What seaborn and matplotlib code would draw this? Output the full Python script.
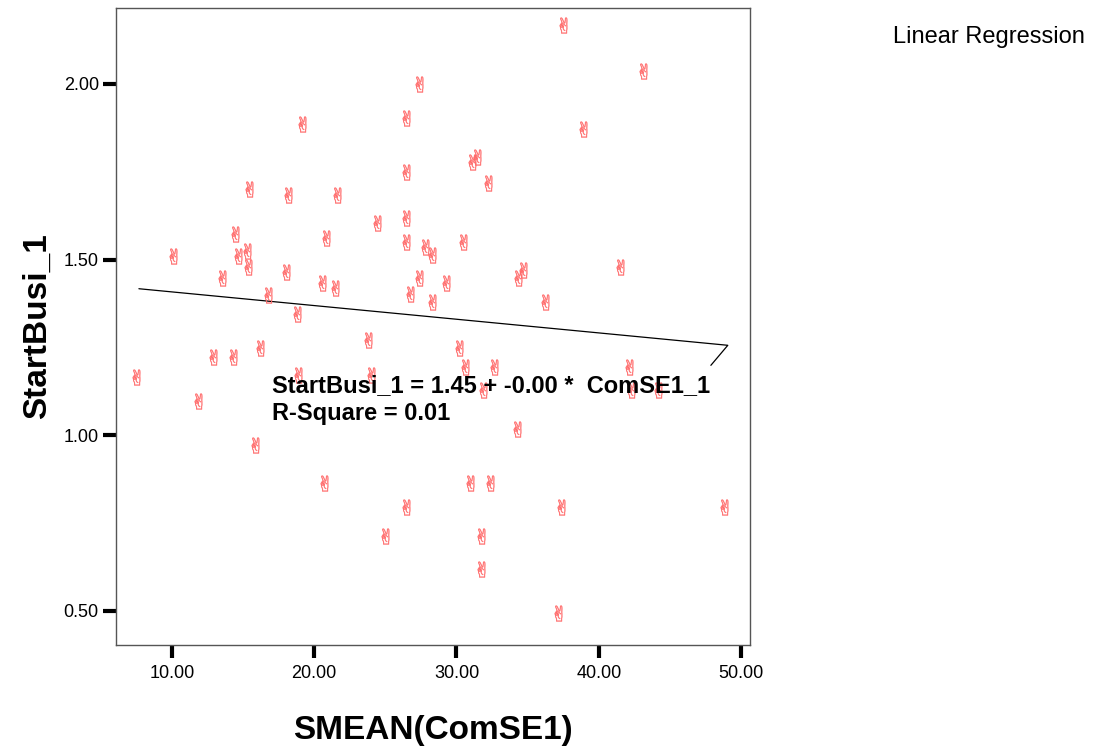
import matplotlib
matplotlib.use("Agg")
import matplotlib.pyplot as plt
import seaborn as sns
import pandas as pd

# ── data ──
smean_comse1 = [37.48, 43.10, 27.36, 38.88, 26.44, 19.14, 15.41, 18.15, 21.60, 26.44,
                31.43, 31.08, 32.21, 26.44, 24.41, 14.43, 10.07, 20.82, 15.27, 14.64,
                15.34, 18.01, 13.51, 26.44, 27.78, 28.27, 30.45, 27.36, 29.26, 20.54,
                21.45, 16.75, 26.73, 28.27, 34.67, 34.32, 36.21, 41.48, 18.78, 23.77,
                30.17, 16.18, 12.88, 14.29, 7.47, 18.85, 23.98, 30.59, 32.63, 31.86,
                42.12, 42.26, 44.15, 11.83, 15.83, 34.24, 20.68, 30.94, 32.35, 26.44,
                37.34, 48.79, 24.97, 31.71, 31.71, 37.13]
start_busi_1 = [2.169, 2.038, 2.001, 1.873, 1.904, 1.887, 1.700, 1.685, 1.685, 1.748,
                1.793, 1.779, 1.717, 1.617, 1.603, 1.572, 1.509, 1.560, 1.523, 1.509,
                1.478, 1.466, 1.447, 1.549, 1.535, 1.512, 1.549, 1.447, 1.432, 1.432,
                1.418, 1.398, 1.401, 1.378, 1.469, 1.447, 1.378, 1.478, 1.344, 1.270,
                1.248, 1.248, 1.222, 1.222, 1.165, 1.171, 1.171, 1.194, 1.194, 1.128,
                1.194, 1.128, 1.128, 1.097, 0.972, 1.017, 0.864, 0.864, 0.864, 0.796,
                0.796, 0.796, 0.713, 0.713, 0.619, 0.494]

# fitted line as drawn (incl. the little return stroke at the right end)
fit_x = [7.68, 49.07, 47.88]
fit_y = [1.417, 1.256, 1.199]

x_ticks = [10, 20, 30, 40, 50]
y_ticks = [0.5, 1.0, 1.5, 2.0]

equation = "StartBusi_1 = 1.45 + -0.00 *  ComSE1_1"
r_square = "R-Square = 0.01"

sns.set_style("white")
plt.rcParams["font.family"] = ["Liberation Sans", "DejaVu Sans"]
plt.rcParams["text.color"] = "black"

fig = plt.figure(figsize=(10.94, 7.49), dpi=100)
ax = fig.add_axes([116 / 1094, 1 - 645 / 749, 634 / 1094, 637 / 749])

df = pd.DataFrame({"SMEAN(ComSE1)": smean_comse1, "StartBusi_1": start_busi_1})
sns.scatterplot(data=df, x="SMEAN(ComSE1)", y="StartBusi_1", ax=ax,
                marker="$\u270c$", s=130, color="#ff6a6a", edgecolor="#ff6a6a",
                linewidth=0.3, zorder=3)

line_df = pd.DataFrame({"x": fit_x, "y": fit_y})
sns.lineplot(data=line_df, x="x", y="y", ax=ax, sort=False, estimator=None,
             color="black", lw=0.9, zorder=2)

ax.set_xlim(6.07, 50.63)
ax.set_ylim(0.403, 2.216)
ax.set_xticks(x_ticks)
ax.set_yticks(y_ticks)
ax.set_xticklabels([f"{v:.2f}" for v in x_ticks])
ax.set_yticklabels([f"{v:.2f}" for v in y_ticks])
ax.tick_params(axis="both", direction="out", length=9.4, width=3, color="black",
               labelsize=13, labelcolor="black", bottom=True, left=True)
ax.tick_params(axis="x", pad=5)
ax.tick_params(axis="y", pad=3)

for sp in ax.spines.values():
    sp.set_color("#555555")
    sp.set_linewidth(1)

ax.set_xlabel("SMEAN(ComSE1)", fontsize=24, fontweight="bold", labelpad=24,
              color="black")
ax.set_ylabel("StartBusi_1", fontsize=24, fontweight="bold", labelpad=8,
              color="black")

ax.text(17.03, 1.1225, equation, fontsize=17, fontweight="bold", va="baseline",
        color="black", zorder=4)
ax.text(17.03, 1.043, r_square, fontsize=17, fontweight="bold", va="baseline",
        color="black", zorder=4)

fig.text(893 / 1094, 1 - 37 / 749, "Linear Regression", fontsize=17, va="center",
         color="black")

fig.savefig("out.png", dpi=100)
